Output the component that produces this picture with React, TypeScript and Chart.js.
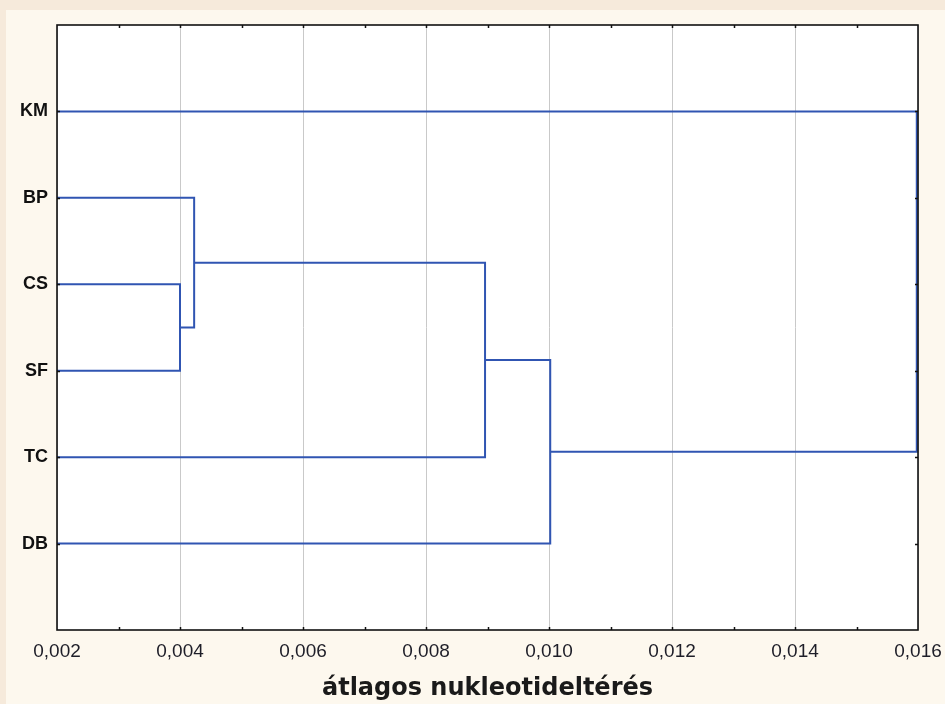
import React, { useEffect, useRef } from "react";
import { Chart, registerables } from "chart.js";

Chart.register(...registerables);

// Leaf labels, top to bottom
const leaves = ["KM", "BP", "CS", "SF", "TC", "DB"];
// Dendrogram merges (node ids: 0-5 leaves, 6+ clusters in merge order)
const mergeA = [2, 1, 7, 8, 0];
const mergeB = [3, 6, 4, 5, 9];
const mergeHeights = [0.004, 0.00423, 0.00896, 0.01002, 0.01598];
// Axis
const xMin = 0.002;
const xMax = 0.016;
const xStep = 0.002;
const xMinorStep = 0.001;
const xTitle = "átlagos nukleotideltérés";

const LINE_COLOR = "#3055b2";

function buildDatasets() {
  const nx: number[] = leaves.map(() => xMin);
  const ny: number[] = leaves.map((_, i) => i + 1);
  const sets: any[] = [];
  mergeA.forEach((a, k) => {
    const b = mergeB[k];
    const h = mergeHeights[k];
    sets.push({
      data: [
        { x: nx[a], y: ny[a] },
        { x: h, y: ny[a] },
        { x: h, y: ny[b] },
        { x: nx[b], y: ny[b] },
      ],
      showLine: true,
      borderColor: LINE_COLOR,
      borderWidth: 2,
      pointRadius: 0,
      tension: 0,
      fill: false,
    });
    nx.push(h);
    ny.push((ny[a] + ny[b]) / 2);
  });
  return sets;
}

const bgPlugin = {
  id: "bgPlugin",
  beforeDraw(chart: any) {
    const { ctx, width, height, chartArea } = chart;
    ctx.save();
    ctx.fillStyle = "#f6eadb";
    ctx.fillRect(0, 0, width, height);
    ctx.fillStyle = "#fdf8ee";
    ctx.fillRect(6, 10, width - 6, height - 10);
    ctx.fillStyle = "#ffffff";
    ctx.fillRect(chartArea.left, chartArea.top, chartArea.right - chartArea.left, chartArea.bottom - chartArea.top);
    ctx.restore();
  },
  afterDatasetsDraw(chart: any) {
    const { ctx, chartArea, scales } = chart;
    const { left, right, top, bottom } = chartArea;
    ctx.save();
    ctx.strokeStyle = "#111111";
    ctx.lineWidth = 1.6;
    ctx.strokeRect(left, top, right - left, bottom - top);
    // inward tick marks
    ctx.lineWidth = 1.5;
    ctx.beginPath();
    const n = Math.round((xMax - xMin) / xMinorStep);
    for (let i = 1; i < n; i++) {
      const px = Math.round(scales.x.getPixelForValue(xMin + i * xMinorStep)) + 0.5;
      ctx.moveTo(px, bottom);
      ctx.lineTo(px, bottom - 3);
      ctx.moveTo(px, top);
      ctx.lineTo(px, top + 3);
    }
    leaves.forEach((_, i) => {
      const py = Math.round(scales.y.getPixelForValue(i + 1)) + 0.5;
      ctx.moveTo(left, py);
      ctx.lineTo(left + 3, py);
      ctx.moveTo(right, py);
      ctx.lineTo(right - 3, py);
    });
    ctx.stroke();
    ctx.restore();
  },
};

export default function App() {
  const ref = useRef<HTMLCanvasElement | null>(null);
  useEffect(() => {
    if (!ref.current) return;
    const chart = new Chart(ref.current, {
      type: "scatter",
      data: { datasets: buildDatasets() },
      options: {
        responsive: false,
        animation: false,
        events: [],
        layout: { padding: { top: 25, right: 27, left: 0, bottom: 0 } },
        plugins: { legend: { display: false }, tooltip: { enabled: false } },
        scales: {
          x: {
            type: "linear",
            min: xMin,
            max: xMax,
            afterFit: (s: any) => {
              s.height = 74;
              s.paddingLeft = 0;
              s.paddingRight = 0;
            },
            ticks: {
              stepSize: xStep,
              padding: 10,
              color: "#1e1e28",
              font: { family: "Liberation Sans, Arial, sans-serif", size: 19 },
              callback: (v: any) => Number(v).toFixed(3).replace(".", ","),
            },
            grid: { color: "#c9c9c9", lineWidth: 1, drawTicks: false },
            border: { display: false },
            title: {
              display: true,
              text: xTitle,
              color: "#1a1a1a",
              font: { family: "DejaVu Sans", size: 24, weight: "bold" },
              padding: { top: 0, bottom: 1 },
            },
          },
          y: {
            type: "linear",
            min: 0,
            max: 7,
            reverse: true,
            afterFit: (s: any) => {
              s.width = 57;
              s.paddingTop = 0;
              s.paddingBottom = 0;
            },
            ticks: {
              stepSize: 1,
              padding: 9,
              color: "#111111",
              font: { family: "Liberation Sans, Arial, sans-serif", size: 18, weight: "bold" },
              callback: (v: any) => leaves[Number(v) - 1] ?? "",
            },
            grid: { display: false, drawTicks: false },
            border: { display: false },
          },
        },
      },
      plugins: [bgPlugin],
    });
    return () => chart.destroy();
  }, []);
  return (
    <div style={{ position: "absolute", left: 0, top: 0, width: 945, height: 704 }}>
      <canvas ref={ref} width={945} height={704} style={{ display: "block", width: 945, height: 704 }} />
    </div>
  );
}
